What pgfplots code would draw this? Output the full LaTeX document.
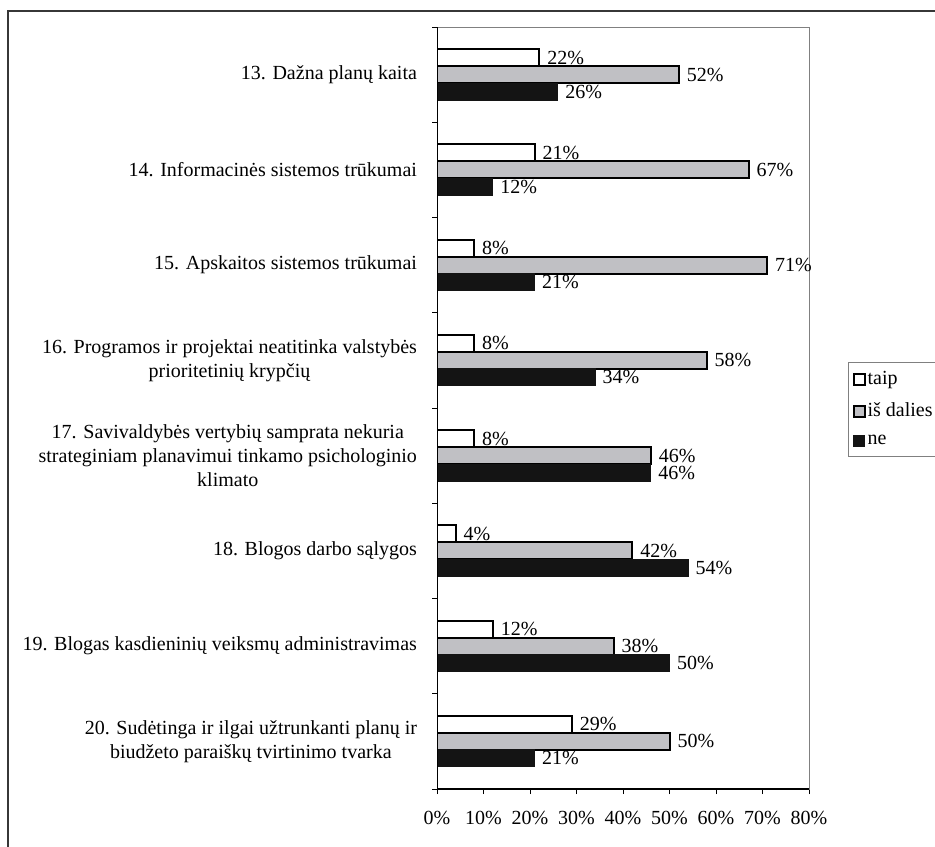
\documentclass[border=0pt]{standalone}
\usepackage{pgfplots}
\pgfplotsset{compat=1.18}
\usepackage{fontspec}
\setmainfont{Liberation Serif}

\definecolor{barfill}{RGB}{192,192,196}
\definecolor{barblack}{RGB}{20,20,20}
\definecolor{outerframe}{RGB}{55,55,55}
\definecolor{plotborder}{RGB}{128,128,128}

\begin{document}
\begin{tikzpicture}
\useasboundingbox (0,0) rectangle (467.5pt,423pt);
% outer frame (left and top edges)
\draw[outerframe, line width=0.8pt] (4pt,-2pt) -- (4pt,417.5pt) -- (470pt,417.5pt);

\begin{axis}[
  at={(218.5pt,28.5pt)}, anchor=south west,
  width=186pt, height=381pt, scale only axis,
  xbar, bar width=8.5pt,
  xmin=0, xmax=80, ymin=-0.5, ymax=7.5,
  xtick={0,10,...,80},
  xticklabels={0\%,10\%,20\%,30\%,40\%,50\%,60\%,70\%,80\%},
  ytick={0,...,7},
  yticklabels={
    {20. Sudėtinga ir ilgai užtrunkanti planų ir\\biudžeto paraiškų tvirtinimo tvarka},
    {19. Blogas kasdieninių veiksmų administravimas},
    {18. Blogos darbo sąlygos},
    {17. Savivaldybės vertybių samprata nekuria\\strateginiam planavimui tinkamo psichologinio\\klimato},
    {16. Programos ir projektai neatitinka valstybės\\prioritetinių krypčių},
    {15. Apskaitos sistemos trūkumai},
    {14. Informacinės sistemos trūkumai},
    {13. Dažna planų kaita}},
  minor ytick={-0.5,0.5,...,7.5},
  tick align=outside,
  major tick length=2.5pt, minor tick length=2.5pt,
  xtick pos=bottom, ytick pos=left,
  major y tick style={draw=none},
  tick style={black, line width=0.5pt},
  axis line style={draw=plotborder, line width=0.5pt},
  yticklabel style={align=center, xshift=-4pt},
  xticklabel style={yshift=-5pt},
  nodes near coords={\pgfmathprintnumber[assume math mode=true]{\pgfplotspointmeta}\%},
  every node near coord/.append style={black, anchor=west, inner sep=1pt, xshift=2.5pt},
  legend style={at={(1.105,0.5604)}, anchor=north west, draw=plotborder,
    line width=0.5pt, inner xsep=2pt, inner ysep=3.5pt, row sep=5.5pt,
    nodes={inner xsep=1pt, inner ysep=1pt}},
  legend cell align=left,
  legend image code/.code={\draw[#1] (0pt,-2.75pt) rectangle (5.5pt,2.75pt);},
]
\addplot[fill=white, draw=black, line width=1pt, bar shift=8.5pt]
  coordinates {(22,7) (21,6) (8,5) (8,4) (8,3) (4,2) (12,1) (29,0)};
\addplot[fill=barfill, draw=black, line width=1pt, bar shift=0pt]
  coordinates {(52,7) (67,6) (71,5) (58,4) (46,3) (42,2) (38,1) (50,0)};
\addplot[fill=barblack, draw=barblack, line width=0.5pt, bar shift=-8.5pt]
  coordinates {(26,7) (12,6) (21,5) (34,4) (46,3) (54,2) (50,1) (21,0)};
\legend{taip, iš dalies, ne}
% value axis and category axis drawn in black over the grey plot border
\draw[black, line width=0.7pt] (rel axis cs:0,1) -- (rel axis cs:0,0) -- (rel axis cs:1,0);
\end{axis}
\end{tikzpicture}
\end{document}
